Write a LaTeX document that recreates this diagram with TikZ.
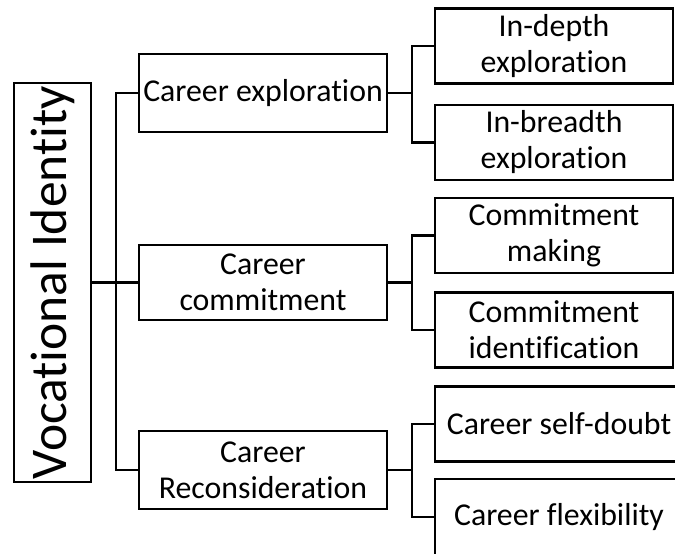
\documentclass[tikz,border=0pt]{standalone}
\usepackage{fontspec}
\setmainfont{Carlito}[Ligatures={NoCommon}]
\begin{document}
\begin{tikzpicture}[x=1pt,y=-1pt,
  ln/.style={line width=2.1pt,black},
  box/.style={draw=black,line width=2.1pt,fill=white,inner sep=0pt,align=center,
    font=\fontsize{31.8}{36}\selectfont},
  mid/.style={box,minimum width=248pt,minimum height=77pt},
  leaf/.style={box,minimum width=238pt,minimum height=75pt},
  leafb/.style={box,minimum width=248pt,minimum height=75pt}]
\fill[white] (0,0) rectangle (675,554);
\useasboundingbox (0,0) rectangle (675,554);

% root
\node[box,rotate=90,minimum width=399pt,minimum height=77pt,
  font=\fontsize{51.5}{60}\selectfont] (vi) at (52.5,282.5) {Vocational Identity};

% middle level
\node[mid,minimum height=78pt] (expl) at (263,93) {Career exploration};
\node[mid,minimum height=75pt] (comm) at (263,282.5) {Career\\commitment};
\node[mid,minimum height=78pt] (recon) at (263,470) {Career\\Reconsideration};

% leaves
\node[leaf] (depth) at (554,46) {In-depth\\exploration};
\node[leaf] (breadth) at (554,142.5) {In-breadth\\exploration};
\node[leaf] (making) at (554,235.5) {Commitment\\making};
\node[leaf] (ident) at (554,330) {Commitment\\identification};
\node[leafb] (doubt) at (559,424) {Career self-doubt};
\node[leafb,minimum height=76pt] (flex) at (559,517) {Career flexibility};

% junctions
\coordinate (j0) at (116,282.5);
\coordinate (j1) at (412,93);
\coordinate (j2) at (412,282.5);
\coordinate (j3) at (412,470);

% connectors
\draw[ln] (vi.south) -- (j0);
\draw[ln] (expl.west) -| (j0) |- (recon.west);
\draw[ln] (j0) -- (comm.west);

\draw[ln] (expl.east) -- (j1);
\draw[ln] (depth.west) -| (j1) |- (breadth.west);

\draw[ln] (comm.east) -- (j2);
\draw[ln] (making.west) -| (j2) |- (ident.west);

\draw[ln] (recon.east) -- (j3);
\draw[ln] (doubt.west) -| (j3) |- (flex.west);
\end{tikzpicture}
\end{document}
